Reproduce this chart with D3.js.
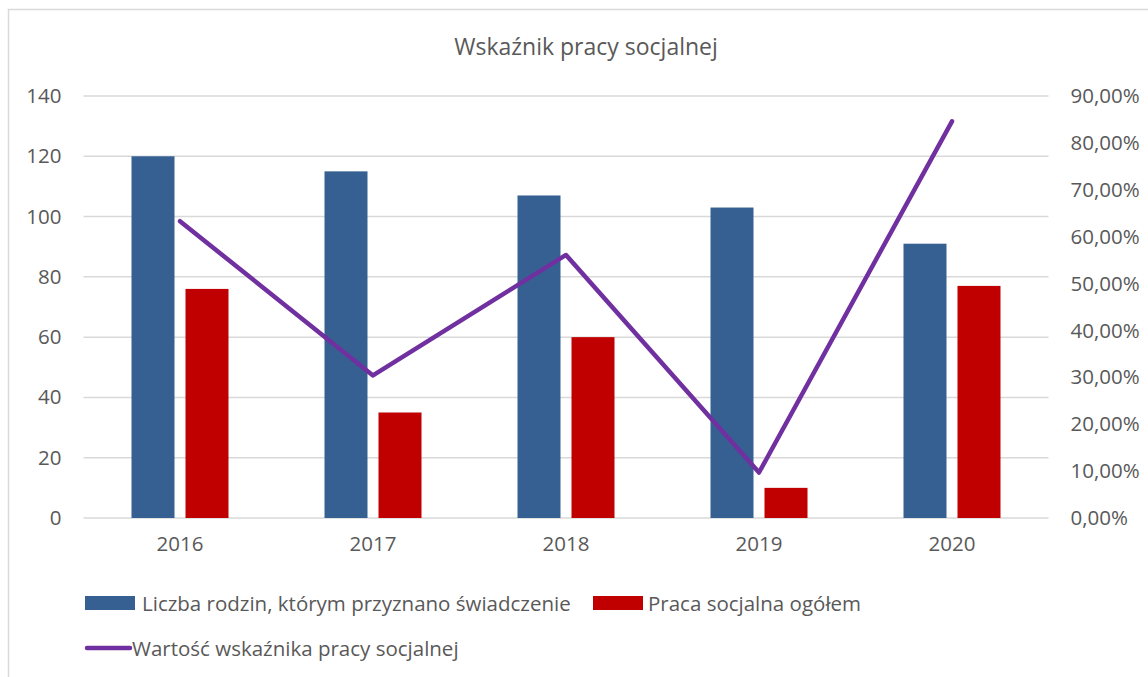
<!DOCTYPE html>
<html>
<head>
<meta charset="utf-8">
<script src="https://cdn.jsdelivr.net/npm/d3@7"></script>
<style>
  body { margin: 0; background: #fff; }
  svg text { font-family: "Open Sans", "Noto Sans", sans-serif; fill: #595959; }
</style>
</head>
<body>
<svg width="1148" height="677"></svg>
<script>
const svg = d3.select('svg');
const width = +svg.attr('width');
const height = +svg.attr('height');

// data
const years = ['2016', '2017', '2018', '2019', '2020'];
const families = [120, 115, 107, 103, 91];
const socialWork = [76, 35, 60, 10, 77];
const indicator = [63.3, 30.4, 56.1, 9.7, 84.6];
const leftTicks = [0, 20, 40, 60, 80, 100, 120, 140];
const rightTicks = [0, 10, 20, 30, 40, 50, 60, 70, 80, 90];

const title = 'Wskaźnik pracy socjalnej';
const seriesNames = ['Liczba rodzin, którym przyznano świadczenie', 'Praca socjalna ogółem', 'Wartość wskaźnika pracy socjalnej'];
const colors = ['#376092', '#C00000', '#7030A0'];

const margin = {left: 83.5, right: 1048.5, top: 96, bottom: 518};

// chart border
svg.append('rect')
    .attr('x', 8.5).attr('y', 9.5)
    .attr('width', 1160).attr('height', 700)
    .attr('fill', 'none').attr('stroke', '#d9d9d9').attr('stroke-width', 1.5);

// scales
const x = d3.scaleBand().domain(years).range([margin.left, margin.right]);
const yL = d3.scaleLinear().domain([0, 140]).range([margin.bottom, margin.top]);
const yR = d3.scaleLinear().domain([0, 90]).range([margin.bottom, margin.top]);

const barW = 43, gap = 11;

// grid
svg.append('g').selectAll('line')
    .data(leftTicks)
    .join('line')
    .attr('x1', margin.left).attr('x2', margin.right)
    .attr('y1', d => yL(d)).attr('y2', d => yL(d))
    .attr('stroke', '#d9d9d9').attr('stroke-width', 1.5);

// left axis
const leftAxis = svg.append('g')
    .attr('transform', `translate(${margin.left},0)`)
    .call(d3.axisLeft(yL).tickValues(leftTicks).tickSize(0).tickPadding(22));
leftAxis.select('.domain').remove();
leftAxis.selectAll('text').style('font-size', '20.5px').attr('fill', '#595959');

// right axis
const rightAxis = svg.append('g')
    .attr('transform', `translate(${margin.right},0)`)
    .call(d3.axisRight(yR).tickValues(rightTicks).tickSize(0).tickPadding(22)
        .tickFormat(d => d.toFixed(2).replace('.', ',') + '%'));
rightAxis.select('.domain').remove();
rightAxis.selectAll('text').style('font-size', '20.5px').attr('fill', '#595959');

// bottom axis
const bottomAxis = svg.append('g')
    .attr('transform', `translate(0,${margin.bottom})`)
    .call(d3.axisBottom(x).tickSize(0).tickPadding(18));
bottomAxis.select('.domain').remove();
bottomAxis.selectAll('text').style('font-size', '20.5px').attr('fill', '#595959');

// bars
const center = d => x(d) + x.bandwidth() / 2;
svg.append('g').selectAll('rect')
    .data(years)
    .join('rect')
    .attr('x', (d, i) => center(d) - gap / 2 - barW)
    .attr('y', (d, i) => yL(families[i]))
    .attr('width', barW)
    .attr('height', (d, i) => yL(0) - yL(families[i]))
    .attr('fill', colors[0]);

svg.append('g').selectAll('rect')
    .data(years)
    .join('rect')
    .attr('x', (d, i) => center(d) + gap / 2)
    .attr('y', (d, i) => yL(socialWork[i]))
    .attr('width', barW)
    .attr('height', (d, i) => yL(0) - yL(socialWork[i]))
    .attr('fill', colors[1]);

// line
const line = d3.line()
    .x((d, i) => center(years[i]))
    .y(d => yR(d));
svg.append('path')
    .datum(indicator)
    .attr('d', line)
    .attr('fill', 'none')
    .attr('stroke', colors[2])
    .attr('stroke-width', 4.5)
    .attr('stroke-linecap', 'round')
    .attr('stroke-linejoin', 'round');

// title
svg.append('text')
    .attr('x', 586).attr('y', 55)
    .attr('text-anchor', 'middle')
    .style('font-size', '23px')
    .text(title);

// legend
const lg = svg.append('g');
lg.append('rect').attr('x', 85).attr('y', 596).attr('width', 50).attr('height', 14).attr('fill', colors[0]);
lg.append('text').attr('x', 142).attr('y', 611).style('font-size', '20.5px').text(seriesNames[0]);
lg.append('rect').attr('x', 593).attr('y', 596).attr('width', 50).attr('height', 14).attr('fill', colors[1]);
lg.append('text').attr('x', 648).attr('y', 611).style('font-size', '20.5px').text(seriesNames[1]);
lg.append('line').attr('x1', 87).attr('x2', 130).attr('y1', 648).attr('y2', 648)
    .attr('stroke', colors[2]).attr('stroke-width', 4.5).attr('stroke-linecap', 'round');
lg.append('text').attr('x', 132).attr('y', 656).style('font-size', '20.5px').text(seriesNames[2]);
</script>
</body>
</html>
